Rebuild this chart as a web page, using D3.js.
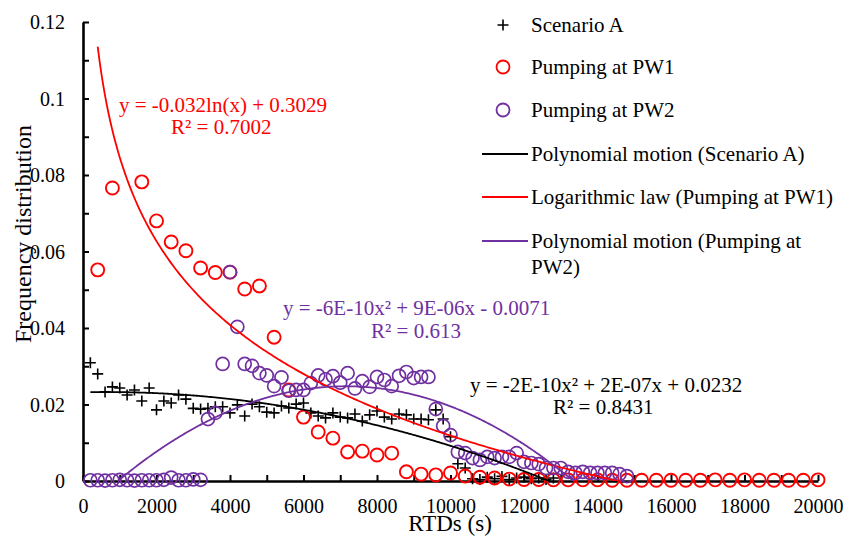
<!DOCTYPE html>
<html><head><meta charset="utf-8">
<script src="https://cdn.jsdelivr.net/npm/d3@7"></script>
</head><body style="margin:0">
<svg id="c" width="846" height="536"></svg>
<script>
// ---------------- DATA ----------------
const xTickValues = [0,2000,4000,6000,8000,10000,12000,14000,16000,18000,20000];
const yTickValues = [0,0.02,0.04,0.06,0.08,0.1,0.12];
const yTickLabels = ["0","0.02","0.04","0.06","0.08","0.1","0.12"];

const scenarioA_x = [200,400,600,800,1000,1200,1400,1600,1800,2000,2200,2400,2600,2800,3000,3200,3400,3600,3800,4000,4200,4400,4600,4800,5000,5200,5400,5600,5800,6000,6200,6400,6600,6800,7000,7200,7400,7600,7800,8000,8200,8400,8600,8800,9000,9200,9400,9600,9800,10000,10200,10400,10600,10800,11000,11200,11400,11600,11800,12000,12200,12400,12600,12800];
const scenarioA_y = [0.0309,0.0280,0.0233,0.0246,0.0243,0.0225,0.0238,0.0209,0.0243,0.0186,0.0209,0.0204,0.0225,0.0214,0.0190,0.0188,0.0190,0.0194,0.0194,0.0178,0.0199,0.0170,0.0201,0.0194,0.0180,0.0178,0.0196,0.0191,0.0201,0.0204,0.0178,0.0170,0.0165,0.0178,0.0167,0.0165,0.0175,0.0157,0.0173,0.0183,0.0167,0.0162,0.0175,0.0173,0.0162,0.0162,0.0160,0.0186,0.0162,0.0116,0.0045,0.0034,0.0006,0.0004,0.0010,0.0006,0.0012,0.0004,0.0008,0.0010,0.0006,0.0008,0.0004,0.0008];

const pw1_x = [400,800,1600,2000,2400,2800,3200,3600,4000,4400,4800,5200,5600,6000,6400,6800,7200,7600,8000,8400,8800,9200,9600,10000,10400,10800,11200,11600,12000,12400,12800,13200,13600,14000,14400,14800,15200,15600,16000,16400,16800,17200,17600,18000,18400,18800,19200,19600,20000];
const pw1_y = [0.0552,0.0766,0.0782,0.0680,0.0625,0.0602,0.0557,0.0545,0.0546,0.0502,0.0510,0.0376,0.0238,0.0167,0.0128,0.0112,0.0076,0.0078,0.0068,0.0073,0.0024,0.0018,0.0016,0.0021,0.0013,0.0010,0.0008,0.0005,0.0004,0.0004,0.0003,0.0003,0.0003,0.0003,0.0002,0.0002,0.0002,0.0002,0.0002,0.0002,0.0002,0.0003,0.0002,0.0003,0.0002,0.0002,0.0002,0.0002,0.0003];

const pw2_x = [200,400,600,800,1000,1200,1400,1600,1800,2000,2200,2400,2600,2800,3000,3200,3400,3600,3800,4000,4200,4400,4600,4800,5000,5200,5400,5600,5800,6000,6200,6400,6600,6800,7000,7200,7400,7600,7800,8000,8200,8400,8600,8800,9000,9200,9400,9600,9800,10000,10200,10400,10600,10800,11000,11200,11400,11600,11800,12000,12200,12400,12600,12800,13000,13200,13400,13600,13800,14000,14200,14400,14600,14800];
const pw2_y = [0.0002,0.0002,0.0001,0.0002,0.0003,0.0002,0.0001,0.0002,0.0002,0.0002,0.0003,0.0009,0.0002,0.0002,0.0004,0.0003,0.0162,0.0178,0.0306,0.0546,0.0403,0.0306,0.0301,0.0282,0.0276,0.0248,0.0271,0.0236,0.0238,0.0238,0.0256,0.0276,0.0266,0.0274,0.0257,0.0282,0.0242,0.0261,0.0246,0.0272,0.0264,0.0248,0.0275,0.0285,0.0269,0.0272,0.0272,0.0188,0.0144,0.0120,0.0076,0.0073,0.0060,0.0055,0.0063,0.0060,0.0063,0.0063,0.0073,0.0050,0.0047,0.0044,0.0034,0.0034,0.0034,0.0024,0.0021,0.0024,0.0021,0.0021,0.0021,0.0021,0.0018,0.0013];

const fitA_coef   = [0.0232, 2.0e-7, -1.6e-10];     // c0 + c1 x + c2 x^2
const fitPW1_coef = [0.3029, -0.0316];              // b + a ln(x)
const fitPW2_coef = [-0.00818, 9.22e-6, -6.45e-10]; // c0 + c1 x + c2 x^2

const legendLabels = ["Scenario A","Pumping at PW1","Pumping at PW2","Polynomial motion (Scenario A)","Logarithmic law (Pumping at PW1)",["Polynomial motion (Pumping at","PW2)"]];
const eqA = ["y = -2E-10x² + 2E-07x + 0.0232","R² = 0.8431"];
const eqPW1 = ["y = -0.032ln(x) + 0.3029","R² = 0.7002"];
const eqPW2 = ["y = -6E-10x² + 9E-06x - 0.0071","R² = 0.613"];

const colA = "#000000", colPW1 = "#ff0000", colPW2 = "#7030a0";
const FONT = '"Liberation Serif"';

const fA = v => fitA_coef[0] + fitA_coef[1]*v + fitA_coef[2]*v*v;
const fPW1 = v => fitPW1_coef[0] + fitPW1_coef[1]*Math.log(v);
const fPW2 = v => fitPW2_coef[0] + fitPW2_coef[1]*v + fitPW2_coef[2]*v*v;

// ---------------- DRAW ----------------
const svg = d3.select("#c");
const x = d3.scaleLinear().domain([0,20000]).range([83,818]);
const y = d3.scaleLinear().domain([0,0.12]).range([481,22]);

svg.append("defs").append("clipPath").attr("id","plot")
  .append("rect").attr("x",83).attr("y",22).attr("width",735).attr("height",459);

// Y axis
const yAxis = d3.axisLeft(y).tickValues(d3.range(0,0.1201,0.01)).tickSizeInner(-6).tickSizeOuter(0).tickPadding(18)
  .tickFormat(d=>{const i=yTickValues.findIndex(v=>Math.abs(v-d)<1e-9); return i>=0?yTickLabels[i]:"";});
const gy = svg.append("g").attr("transform","translate(83,0)").call(yAxis);
gy.attr("font-family",null).attr("font-size",null);
gy.select(".domain").attr("stroke","#000").attr("stroke-width",2.6);
gy.selectAll(".tick line").attr("stroke","#000").attr("stroke-width",2);
gy.selectAll(".tick text").style("font-family",FONT).attr("font-size",20).attr("fill","#000").attr("dy","0.33em");

// X axis
const xAxis = d3.axisBottom(x).tickValues(d3.range(0,20001,1000)).tickSizeInner(-6).tickSizeOuter(0).tickPadding(18)
  .tickFormat(d=>xTickValues.includes(d)?String(d):"");
const gx = svg.append("g").attr("transform","translate(0,481)").call(xAxis);
gx.attr("font-family",null).attr("font-size",null);
gx.select(".domain").attr("stroke","#000").attr("stroke-width",2.6);
gx.selectAll(".tick line").attr("stroke","#000").attr("stroke-width",2);
gx.selectAll(".tick text").style("font-family",FONT).attr("font-size",20).attr("fill","#000").attr("dy","0.71em");

// axis titles
svg.append("text").style("font-family",FONT).attr("x",450).attr("y",531).attr("text-anchor","middle")
  .attr("font-size",23).text("RTDs (s)");
svg.append("text").style("font-family",FONT).attr("transform","rotate(-90)").attr("x",-234).attr("y",31)
  .attr("text-anchor","middle").attr("font-size",24).text("Frequency distribution");

// markers
const plusPath = "M-5.5,0H5.5M0,-5.5V5.5";
svg.append("g").selectAll("path").data(scenarioA_x.map((d,i)=>[d,scenarioA_y[i]])).join("path")
  .attr("transform",d=>`translate(${x(d[0])},${y(d[1])})`).attr("d",plusPath)
  .attr("stroke",colA).attr("stroke-width",1.6).attr("fill","none");
svg.append("g").selectAll("circle").data(pw1_x.map((d,i)=>[d,pw1_y[i]])).join("circle")
  .attr("cx",d=>x(d[0])).attr("cy",d=>y(d[1])).attr("r",6.5)
  .attr("stroke",colPW1).attr("stroke-width",1.9).attr("fill","none");
svg.append("g").selectAll("circle").data(pw2_x.map((d,i)=>[d,pw2_y[i]])).join("circle")
  .attr("cx",d=>x(d[0])).attr("cy",d=>y(d[1])).attr("r",6.5)
  .attr("stroke",colPW2).attr("stroke-width",1.7).attr("fill","none");

// trendlines
function drawFit(f, x0, x1, color){
  const pts = d3.range(0,401).map(i=>{const xv=x0+(x1-x0)*i/400; return [xv,f(xv)];});
  svg.append("path").attr("clip-path","url(#plot)")
    .attr("d", d3.line().x(d=>x(d[0])).y(d=>y(d[1]))(pts))
    .attr("fill","none").attr("stroke",color).attr("stroke-width",1.8);
}
drawFit(fA, d3.min(scenarioA_x), d3.max(scenarioA_x), colA);
drawFit(fPW1, d3.min(pw1_x), d3.max(pw1_x), colPW1);
drawFit(fPW2, d3.min(pw2_x), d3.max(pw2_x), colPW2);

// equations
function eq(lines, pos, color){
  lines.forEach((s,i)=>{
    svg.append("text").style("font-family",FONT).attr("x",pos[i][0]).attr("y",pos[i][1])
      .attr("font-size",21).attr("fill",color).text(s);
  });
}
eq(eqPW1, [[119,112],[171,134]], colPW1);
eq(eqPW2, [[283,315],[371,338]], colPW2);
eq(eqA, [[470,392],[553,414]], colA);

// legend
const lg = svg.append("g");
const legY = [25,67,110,154,197,241];
const legKinds = ["plus","circle","circle","line","line","line"];
const legCols = [colA,colPW1,colPW2,colA,colPW1,colPW2];
legendLabels.forEach((lab,i)=>{
  const cy=legY[i];
  if(legKinds[i]==="plus") lg.append("path").attr("transform",`translate(503,${cy})`).attr("d",plusPath).attr("stroke",legCols[i]).attr("stroke-width",1.6);
  else if(legKinds[i]==="circle") lg.append("circle").attr("cx",503).attr("cy",cy).attr("r",6.5).attr("fill","none").attr("stroke",legCols[i]).attr("stroke-width",1.8);
  else lg.append("line").attr("x1",482).attr("x2",528).attr("y1",cy).attr("y2",cy).attr("stroke",legCols[i]).attr("stroke-width",1.8);
  const lines = Array.isArray(lab)?lab:[lab];
  lines.forEach((s,j)=>{
    lg.append("text").style("font-family",FONT).attr("x",531).attr("y",cy+7+j*26).attr("font-size",21).attr("fill","#000").text(s);
  });
});
</script>
</body></html>
